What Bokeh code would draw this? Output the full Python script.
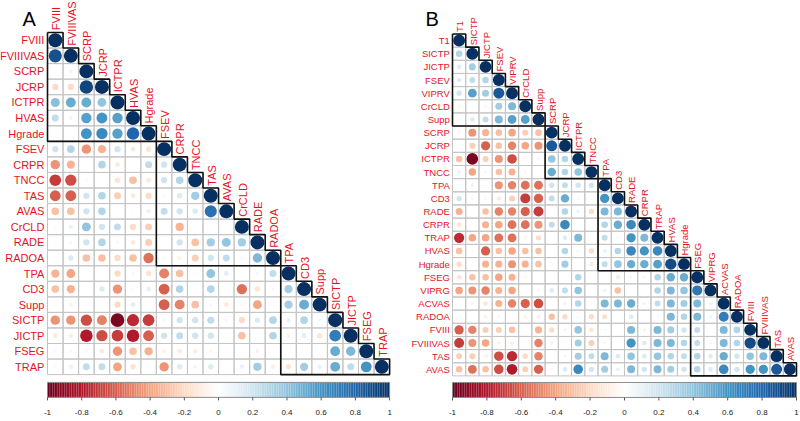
import numpy as np
from bokeh.plotting import figure
from bokeh.layouts import row
from bokeh.models import Range1d
from bokeh.core.properties import value
from bokeh.embed import file_html
from bokeh.resources import INLINE

# ---------------- Panel A data ----------------
A_names = ["FVIII", "FVIIIVAS", "SCRP", "JCRP", "ICTPR", "HVAS", "Hgrade", "FSEV", "CRPR", "TNCC",
           "TAS", "AVAS", "CrCLD", "RADE", "RADOA", "TPA", "CD3", "Supp", "SICTP", "JICTP", "FSEG", "TRAP"]
A_FVIIIVAS = [0.88]
A_SCRP = [-0.03, -0.08]
A_JCRP = [-0.2, -0.2, 0.92]
A_ICTPR = [0.42, 0.5, 0.5, 0.4]
A_HVAS = [0.25, 0.07, 0.55, 0.6, 0.55]
A_Hgrade = [0.03, 0.0, 0.6, 0.65, 0.55, 0.8]
A_FSEV = [0.2, 0.3, -0.45, -0.35, 0.2, -0.12, -0.15]
A_CRPR = [-0.45, -0.35, 0.0, 0.3, -0.12, -0.03, 0.25, 0.2]
A_TNCC = [-0.7, -0.65, -0.05, 0.0, -0.15, -0.3, -0.12, 0.2, 0.3]
A_TAS = [-0.6, -0.6, 0.2, 0.3, -0.25, -0.12, -0.2, -0.05, 0.15, 0.35]
A_AVAS = [-0.3, -0.3, 0.2, 0.3, -0.03, -0.03, -0.1, 0.25, 0.2, 0.15, 0.75]
A_CrCLD = [0.03, 0.1, 0.4, 0.2, 0.25, -0.2, -0.25, -0.03, -0.35, 0.0, 0.02, 0.02]
A_RADE = [-0.03, 0.05, 0.2, 0.3, -0.05, -0.12, -0.25, 0.0, 0.2, -0.3, 0.35, 0.4, 0.35]
A_RADOA = [0.02, 0.15, -0.3, -0.3, -0.2, -0.3, -0.55, -0.05, -0.08, -0.25, 0.2, 0.25, -0.05, 0.45]
A_TPA = [-0.35, -0.4, 0.02, 0.0, -0.2, -0.05, -0.15, -0.5, -0.3, -0.03, 0.4, 0.12, 0.0, 0.05, 0.25]
A_CD3 = [-0.3, -0.35, 0.02, 0.15, -0.45, 0.03, 0.12, -0.6, 0.3, -0.03, 0.3, 0.02, -0.55, -0.15, 0.05, 0.35]
A_Supp = [0.03, -0.08, -0.02, -0.03, -0.2, 0.12, 0.0, -0.6, -0.5, -0.3, -0.05, -0.12, -0.05, -0.4, 0.0,
          0.35, 0.5]
A_SICTP = [-0.45, -0.45, -0.65, -0.5, -0.95, -0.75, -0.7, -0.05, 0.2, 0.2, 0.25, 0.05, -0.2, 0.15, 0.3,
           0.1, 0.3, 0.05]
A_JICTP = [-0.12, -0.1, -0.8, -0.65, -0.7, -0.8, -0.6, 0.2, 0.25, 0.2, 0.2, 0.02, -0.3, 0.0, 0.3,
           -0.08, 0.12, -0.15, 0.7]
A_FSEG = [0.03, -0.05, -0.05, -0.12, -0.45, -0.3, -0.35, -0.08, -0.12, -0.1, 0.05, 0.0, 0.0, 0.08, 0.02,
          0.02, 0.02, 0.0, 0.5, 0.45]
A_TRAP = [-0.03, -0.1, 0.25, 0.25, -0.4, -0.15, -0.03, -0.45, 0.15, -0.08, 0.15, 0.03, 0.1, 0.35, -0.1,
          -0.15, 0.35, 0.1, 0.5, 0.25, 0.6]
A_rows = [[], A_FVIIIVAS, A_SCRP, A_JCRP, A_ICTPR, A_HVAS, A_Hgrade, A_FSEV, A_CRPR, A_TNCC, A_TAS,
          A_AVAS, A_CrCLD, A_RADE, A_RADOA, A_TPA, A_CD3, A_Supp, A_SICTP, A_JICTP, A_FSEG, A_TRAP]
A_clusters = [(0, 6), (7, 14), (15, 21)]

# ---------------- Panel B data ----------------
B_names = ["T1", "SICTP", "JICTP", "FSEV", "VIPRV", "CrCLD", "Supp", "SCRP", "JCRP", "ICTPR", "TNCC",
           "TPA", "CD3", "RADE", "CRPR", "TRAP", "HVAS", "Hgrade", "FSEG", "VIPRG", "ACVAS", "RADOA",
           "FVIII", "FVIIIVAS", "TAS", "AVAS"]
B_SICTP = [0.3]
B_JICTP = [0.15, 0.35]
B_FSEV = [0.15, 0.25, 0.3]
B_VIPRV = [0.2, 0.55, 0.35, 0.85]
B_CrCLD = [-0.05, -0.03, -0.05, 0.35, 0.45]
B_Supp = [0.05, 0.15, 0.25, 0.45, 0.55, 0.55]
B_SCRP = [0.05, -0.45, -0.35, -0.3, -0.4, -0.25, -0.3]
B_JCRP = [0.0, -0.25, -0.6, -0.3, -0.5, -0.4, -0.45, 0.85]
B_ICTPR = [-0.3, -0.95, -0.25, -0.45, -0.65, -0.02, -0.05, 0.4, 0.3]
B_TNCC = [0.1, -0.4, 0.05, -0.3, -0.35, -0.05, -0.03, 0.5, 0.3, 0.4]
B_TPA = [0.0, -0.08, -0.02, -0.45, -0.5, -0.55, -0.55, 0.2, 0.25, 0.2, 0.2]
B_CD3 = [0.2, 0.05, -0.05, -0.12, -0.25, -0.7, -0.6, 0.25, 0.5, -0.05, 0.03, 0.6]
B_RADE = [-0.35, 0.0, -0.3, -0.5, -0.5, -0.6, -0.7, 0.0, 0.3, 0.08, -0.2, 0.45, 0.45]
B_CRPR = [-0.15, 0.0, -0.35, -0.4, -0.55, -0.55, -0.45, 0.25, 0.65, 0.0, 0.0, 0.3, 0.5, 0.65]
B_TRAP = [-0.75, -0.4, -0.4, -0.55, -0.55, -0.05, -0.2, -0.03, 0.15, 0.45, -0.03, 0.25, 0.05, 0.6, 0.45]
B_HVAS = [-0.3, -0.05, -0.6, -0.3, -0.4, -0.3, -0.3, 0.0, 0.3, 0.05, -0.2, 0.1, 0.3, 0.65, 0.6, 0.65]
B_Hgrade = [-0.2, 0.0, -0.35, -0.35, -0.45, -0.35, -0.3, 0.03, 0.35, 0.0, -0.12, 0.25, 0.4, 0.5, 0.5,
            0.55, 0.9]
B_FSEG = [-0.15, -0.3, -0.3, -0.4, -0.35, -0.05, 0.0, -0.02, 0.0, 0.3, 0.0, -0.03, -0.12, 0.05, -0.05,
          0.3, 0.5, 0.5]
B_VIPRG = [-0.4, -0.45, -0.5, -0.35, -0.4, 0.03, 0.05, 0.15, 0.25, 0.4, 0.0, -0.08, -0.3, 0.03, 0.0,
           0.3, 0.45, 0.4, 0.72]
B_ACVAS = [0.0, -0.08, -0.15, -0.35, -0.5, -0.6, -0.65, 0.03, 0.08, 0.3, 0.03, 0.45, 0.45, 0.5, 0.08,
           0.25, 0.45, 0.35, 0.45, 0.08]
B_RADOA = [0.05, 0.0, -0.08, 0.05, 0.0, -0.08, -0.1, -0.3, -0.2, 0.05, -0.2, -0.18, 0.02, 0.15, -0.03,
           0.04, 0.45, 0.3, 0.45, 0.08, 0.7]
B_FVIII = [-0.6, -0.5, -0.25, -0.25, -0.3, 0.0, -0.35, -0.2, -0.08, 0.4, -0.15, 0.05, 0.0, 0.45, 0.08,
           0.45, 0.35, 0.2, 0.25, 0.0, 0.45, 0.3]
B_FVIIIVAS = [-0.7, -0.45, -0.4, -0.08, -0.1, 0.0, -0.5, -0.08, 0.0, 0.35, -0.25, 0.05, 0.0, 0.6, 0.15,
              0.45, 0.45, 0.3, 0.25, 0.05, 0.45, 0.3, 0.9]
B_TAS = [-0.25, -0.25, -0.08, -0.65, -0.75, -0.2, -0.5, 0.0, 0.05, 0.35, 0.25, 0.45, 0.15, 0.4, 0.15,
         0.4, 0.3, 0.25, 0.3, 0.15, 0.5, 0.2, 0.4, 0.45]
B_AVAS = [-0.3, -0.55, -0.3, -0.65, -0.8, -0.25, -0.6, 0.05, 0.15, 0.65, 0.2, 0.35, 0.1, 0.45, 0.2,
          0.45, 0.35, 0.2, 0.3, 0.15, 0.65, 0.2, 0.6, 0.6, 0.85]
B_rows = [[], B_SICTP, B_JICTP, B_FSEV, B_VIPRV, B_CrCLD, B_Supp, B_SCRP, B_JCRP, B_ICTPR, B_TNCC,
          B_TPA, B_CD3, B_RADE, B_CRPR, B_TRAP, B_HVAS, B_Hgrade, B_FSEG, B_VIPRG, B_ACVAS, B_RADOA,
          B_FVIII, B_FVIIIVAS, B_TAS, B_AVAS]
B_clusters = [(0, 6), (7, 10), (11, 17), (18, 25)]

cbar_ticks = [-1, -0.8, -0.6, -0.4, -0.2, 0, 0.2, 0.4, 0.6, 0.8, 1]
cbar_labels = ["-1", "-0.8", "-0.6", "-0.4", "-0.2", "0", "0.2", "0.4", "0.6", "0.8", "1"]

# ---------------- colours ----------------
ANCHORS = ["#67001F", "#B2182B", "#D6604D", "#F4A582", "#FDDBC7", "#FFFFFF",
           "#D1E5F0", "#92C5DE", "#4393C3", "#2166AC", "#053061"]
ANCH_RGB = [tuple(int(h[i:i + 2], 16) for i in (1, 3, 5)) for h in ANCHORS]


def color_of(r):
    t = (max(-1.0, min(1.0, r)) + 1) / 2 * 10
    i = min(int(np.floor(t)), 9)
    f = t - i
    c0, c1 = ANCH_RGB[i], ANCH_RGB[i + 1]
    c = [round(c0[k] + (c1[k] - c0[k]) * f) for k in range(3)]
    return "#%02x%02x%02x" % tuple(c)


LABEL_RED = "#E4141E"
LAB_FONT = value("'Liberation Sans Narrow', 'Arial Narrow', 'Liberation Sans'")
FONT = value("Liberation Sans")


def panel(letter, names, rows, clusters, W, H, gx0, gy0, cx, cy, lab_size,
          letter_xy, tick_size):
    N = len(names)
    p = figure(width=W, height=H, output_backend="svg", toolbar_location=None,
               x_range=Range1d(-gx0 / cx, (W - gx0) / cx),
               y_range=Range1d((H - gy0) / cy, -gy0 / cy),
               x_axis_location=None, y_axis_location=None, min_border=0,
               outline_line_color=None, background_fill_color="white",
               border_fill_color="white")
    p.xgrid.visible = False
    p.ygrid.visible = False

    xs, ys, rad, cols = [], [], [], []
    gx, gy = [], []
    for i in range(N):
        vals = list(rows[i]) + [1.0]
        for j, v in enumerate(vals):
            gx.append(j + 0.5)
            gy.append(i + 0.5)
            if v != 0:
                xs.append(j + 0.5)
                ys.append(i + 0.5)
                rad.append(0.45 * np.sqrt(abs(v)))
                cols.append(color_of(v))
    p.rect(x=gx, y=gy, width=1, height=1, fill_color=None, line_color="#C4C4C4", line_width=1)
    p.circle(x=xs, y=ys, radius=rad, fill_color=cols, line_color=None)

    lx, ly = [], []
    for a, b in clusters:
        px_, py_ = [a], [a]
        for i in range(a, b + 1):
            px_ += [i + 1, i + 1]
            py_ += [i, i + 1]
        px_ += [a, a]
        py_ += [b + 1, a]
        lx.append(px_)
        ly.append(py_)
    p.multi_line(xs=lx, ys=ly, line_color="#111111", line_width=1.6)

    p.text(x=[-0.2] * N, y=[i + 0.5 for i in range(N)], text=names, text_align="right",
           text_baseline="middle", text_font=LAB_FONT, text_font_size=lab_size, text_color=LABEL_RED)
    p.text(x=[j + 0.55 for j in range(N)], y=[j - 0.15 for j in range(N)], text=names,
           angle=np.pi / 2, text_align="left", text_baseline="middle", text_font=LAB_FONT,
           text_font_size=lab_size, text_color=LABEL_RED)
    p.text(x=[letter_xy[0]], y=[letter_xy[1]], text=[letter], text_align="left",
           text_baseline="top", text_font=FONT, text_font_size="20px", text_color="black")

    nb = 200
    cb_top = N + 0.5
    cb_bot = cb_top + 15.0 / cy
    lefts = [N * k / nb for k in range(nb)]
    rights = [N * (k + 1) / nb for k in range(nb)]
    bcols = [color_of(-1 + 2 * (k + 0.5) / nb) for k in range(nb)]
    p.quad(left=lefts, right=rights, top=[cb_top] * nb, bottom=[cb_bot] * nb,
           fill_color=bcols, line_color=None)
    p.quad(left=[0], right=[N], top=[cb_top], bottom=[cb_bot], fill_color=None,
           line_color="#8C8C8C", line_width=1)
    tx = [N * (t + 1) / 2 for t in cbar_ticks]
    p.segment(x0=tx, x1=tx, y0=[cb_bot] * len(tx), y1=[cb_bot + 3.0 / cy] * len(tx),
              line_color="#555555", line_width=1)
    p.text(x=tx, y=[cb_bot + 15.0 / cy] * len(tx), text=cbar_labels, text_align="center",
           text_baseline="middle", text_font=FONT, text_font_size=tick_size, text_color="#222222")
    return p


H = 421
pA = panel("A", A_names, A_rows, A_clusters, W=400, H=H, gx0=47, gy0=32, cx=15.55, cy=15.55,
           lab_size="11px", letter_xy=(-1.6, -1.6), tick_size="8px")
pB = panel("B", B_names, B_rows, B_clusters, W=400, H=H, gx0=52, gy0=33.5, cx=13.23, cy=13.15,
           lab_size="9.5px", letter_xy=(-2.04, -2.0), tick_size="8px")

layout = row(pA, pB, spacing=0)
open("out.html", "w").write(file_html(layout, INLINE))
